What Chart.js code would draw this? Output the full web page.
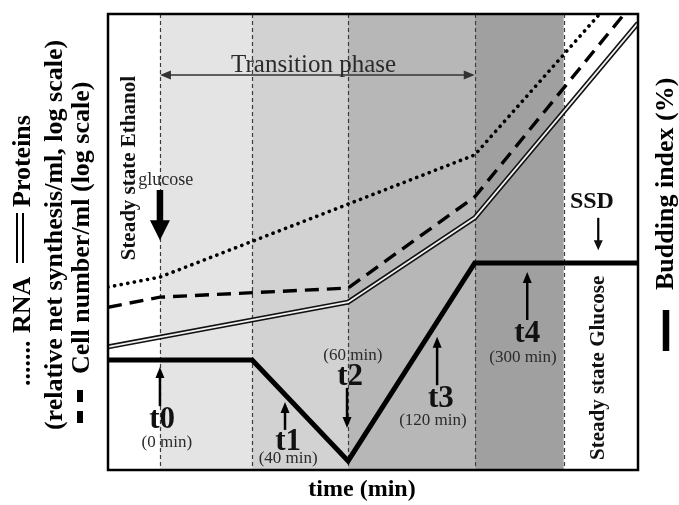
<!DOCTYPE html>
<html>
<head>
<meta charset="utf-8">
<script src="https://cdn.jsdelivr.net/npm/chart.js@4.4.1/dist/chart.umd.min.js"></script>
<style>
  html, body { margin: 0; padding: 0; background: #fff; }
</style>
</head>
<body>
<canvas id="myChart" width="679" height="505"></canvas>
<script>
// schematic time axis (0..100 across the plot), phase boundaries
const phaseEdges = [0, 9.8, 27.2, 45.3, 69.2, 86.0, 100];
const phaseShades = ['#ffffff', '#e4e4e4', '#d2d2d2', '#b7b7b7', '#a0a0a0', '#ffffff'];

// budding index (%), schematic
const buddingX = [0, 27.2, 45.3, 69.2, 100];
const buddingY = [24.1, 24.1, 2.0, 45.4, 45.4];

// proteins, cell number, RNA (log scale, schematic)
const proteinX = [0, 45.3, 69.2, 100];
const proteinY = [27.0, 36.8, 55.3, 98.0];
const cellX = [0, 9.8, 45.3, 69.2, 100];
const cellY = [35.7, 37.9, 39.9, 59.9, 103.7];
const rnaX = [0, 9.8, 45.3, 69.2, 100];
const rnaY = [40.1, 42.3, 58.3, 69.1, 109.5];

// sampling points
const tNames = ['t0', 't1', 't2', 't3', 't4'];
const tTimes = ['(0 min)', '(40 min)', '(60 min)', '(120 min)', '(300 min)'];

const pts = (xs, ys) => xs.map((x, i) => ({ x: x, y: ys[i] }));

const SERIF = '"Liberation Serif", "Times New Roman", serif';

// where the t-markers sit (data units)
const tPlace = [
    { ax: 9.8, tail: 14.0, tip: 22.6, nx: 10.2, ny: 9.2, sx: 11.1, sy: 5.0 },
    { ax: 33.4, tail: 8.8, tip: 14.9, nx: 34.0, ny: 4.4, sx: 34.0, sy: 1.6 },
    { ax: 45.1, tail: 18.0, tip: 9.2, nx: 45.7, ny: 18.6, sx: 46.2, sy: 24.1 },
    { ax: 62.1, tail: 18.6, tip: 29.2, nx: 62.8, ny: 13.8, sx: 61.3, sy: 9.9 },
    { ax: 79.1, tail: 32.9, tip: 43.4, nx: 79.1, ny: 28.1, sx: 78.3, sy: 23.7 },
];

function arrowV(ctx, x, yTail, yTip, lw, head, half) {
    const dir = Math.sign(yTip - yTail);
    ctx.lineWidth = lw;
    ctx.beginPath();
    ctx.moveTo(x, yTail);
    ctx.lineTo(x, yTip - dir * head * 0.7);
    ctx.stroke();
    ctx.beginPath();
    ctx.moveTo(x, yTip);
    ctx.lineTo(x - half, yTip - dir * head);
    ctx.lineTo(x + half, yTip - dir * head);
    ctx.closePath();
    ctx.fill();
}

function arrowH(ctx, xTail, xTip, y, head, half) {
    const dir = Math.sign(xTip - xTail);
    ctx.beginPath();
    ctx.moveTo(xTip, y);
    ctx.lineTo(xTip - dir * head, y - half);
    ctx.lineTo(xTip - dir * head, y + half);
    ctx.closePath();
    ctx.fill();
}

function text(ctx, s, x, y, font, color, align) {
    ctx.font = font;
    ctx.fillStyle = color;
    ctx.textAlign = align || 'center';
    ctx.textBaseline = 'alphabetic';
    ctx.fillText(s, x, y);
}

function vtext(ctx, s, x, y, font, color, align) {
    ctx.save();
    ctx.translate(x, y);
    ctx.rotate(-Math.PI / 2);
    text(ctx, s, 0, 0, font, color, align);
    ctx.restore();
}

const schemePlugin = {
    id: 'scheme',
    beforeDatasetsDraw(chart) {
        const { ctx, chartArea: a, scales: { x } } = chart;
        ctx.save();
        for (let i = 0; i < phaseShades.length; i++) {
            const x0 = x.getPixelForValue(phaseEdges[i]);
            const x1 = x.getPixelForValue(phaseEdges[i + 1]);
            ctx.fillStyle = phaseShades[i];
            ctx.fillRect(x0, a.top, x1 - x0, a.bottom - a.top);
        }
        ctx.strokeStyle = '#3c3c3c';
        ctx.lineWidth = 1.2;
        ctx.setLineDash([4, 3]);
        for (let i = 1; i < phaseEdges.length - 1; i++) {
            const px = Math.round(x.getPixelForValue(phaseEdges[i])) + 0.5;
            ctx.beginPath();
            ctx.moveTo(px, a.top);
            ctx.lineTo(px, a.bottom);
            ctx.stroke();
        }
        ctx.restore();
    },
    afterDatasetsDraw(chart) {
        const { ctx, chartArea: a, scales: { x, y } } = chart;
        const X = v => x.getPixelForValue(v);
        const Y = v => y.getPixelForValue(v);
        ctx.save();

        // transition phase
        ctx.strokeStyle = '#333';
        ctx.fillStyle = '#333';
        ctx.lineWidth = 1.5;
        ctx.beginPath();
        ctx.moveTo(X(9.8) + 6, Y(86.6));
        ctx.lineTo(X(69.2) - 6, Y(86.6));
        ctx.stroke();
        arrowH(ctx, X(30), X(9.8), Y(86.6), 11, 4.5);
        arrowH(ctx, X(30), X(69.2), Y(86.6), 11, 4.5);
        text(ctx, 'Transition phase', X(38.8), Y(87.3), '25px ' + SERIF, '#2a2a2a');

        // steady state labels
        vtext(ctx, 'Steady state Ethanol', X(5.1), Y(66.2), 'bold 21px ' + SERIF, '#111');
        vtext(ctx, 'Steady state Glucose', X(93.6), Y(22.4), 'bold 21px ' + SERIF, '#111');

        // glucose pulse
        text(ctx, 'glucose', X(10.9), Y(62.5), '18px ' + SERIF, '#2a2a2a');
        ctx.fillStyle = '#000';
        ctx.strokeStyle = '#000';
        arrowV(ctx, X(9.8), Y(61.4), Y(50.4), 6.5, 20, 10);

        // SSD
        text(ctx, 'SSD', X(91.3), Y(57.5), 'bold 24px ' + SERIF, '#111');
        arrowV(ctx, X(92.5), Y(55.3), Y(48.2), 2.2, 10, 4.5);

        // sampling points
        tPlace.forEach((p, i) => {
            ctx.fillStyle = '#000';
            ctx.strokeStyle = '#000';
            arrowV(ctx, X(p.ax), Y(p.tail), Y(p.tip), 2.5, 11, 4.5);
            text(ctx, tNames[i], X(p.nx), Y(p.ny), 'bold 31px ' + SERIF, '#111');
            text(ctx, tTimes[i], X(p.sx), Y(p.sy), '17px ' + SERIF, '#2a2a2a');
        });

        // frame
        ctx.strokeStyle = '#000';
        ctx.lineWidth = 2.5;
        ctx.strokeRect(a.left, a.top, a.right - a.left, a.bottom - a.top);
        ctx.restore();
    },
    afterDraw(chart) {
        const { ctx } = chart;
        const f = 'bold 26px ' + SERIF;
        ctx.save();
        // x title
        text(ctx, 'time (min)', 362, 496, 'bold 24px ' + SERIF, '#000');

        // left titles
        vtext(ctx, '.......', 30, 386, f, '#000', 'left');
        vtext(ctx, 'RNA', 30, 333, f, '#000', 'left');
        ctx.strokeStyle = '#000';
        ctx.lineWidth = 2;
        [17, 23].forEach(px => {
            ctx.beginPath();
            ctx.moveTo(px, 263);
            ctx.lineTo(px, 213);
            ctx.stroke();
        });
        vtext(ctx, 'Proteins', 30, 207, f, '#000', 'left');
        vtext(ctx, '(relative net synthesis/ml, log scale)', 62, 235, f, '#000');
        ctx.lineWidth = 6;
        ctx.beginPath();
        ctx.moveTo(80, 423); ctx.lineTo(80, 411);
        ctx.moveTo(80, 402); ctx.lineTo(80, 390);
        ctx.stroke();
        vtext(ctx, 'Cell number/ml (log scale)', 89, 374, f, '#000', 'left');

        // right title
        ctx.lineWidth = 6.5;
        ctx.beginPath();
        ctx.moveTo(666, 351); ctx.lineTo(666, 310);
        ctx.stroke();
        vtext(ctx, 'Budding index (%)', 673, 290, f, '#000', 'left');
        ctx.restore();
    }
};

const config = {
    type: 'line',
    data: {
        datasets: [
            {
                label: 'Budding index',
                data: pts(buddingX, buddingY),
                borderColor: '#000',
                borderWidth: 5,
                order: 1,
            },
            {
                label: 'RNA',
                data: pts(rnaX, rnaY),
                borderColor: '#000',
                borderWidth: 3.6,
                borderDash: [0.1, 6.6],
                borderCapStyle: 'round',
                order: 2,
            },
            {
                label: 'Cell number',
                data: pts(cellX, cellY),
                borderColor: '#000',
                borderWidth: 3.4,
                borderDash: [14, 8],
                order: 3,
            },
            {
                label: 'Proteins (inner)',
                data: pts(proteinX, proteinY),
                borderColor: '#f2f2f2',
                borderWidth: 1.8,
                order: 4,
            },
            {
                label: 'Proteins',
                data: pts(proteinX, proteinY),
                borderColor: '#111',
                borderWidth: 5,
                order: 5,
            },
        ]
    },
    options: {
        responsive: false,
        devicePixelRatio: 1,
        animation: false,
        clip: 0,
        layout: {
            padding: { left: 108, right: 41, top: 14, bottom: 35 }
        },
        elements: {
            point: { radius: 0 },
            line: { tension: 0, fill: false }
        },
        plugins: {
            legend: { display: false },
            tooltip: { enabled: false }
        },
        scales: {
            x: { type: 'linear', min: 0, max: 100, display: false },
            y: { type: 'linear', min: 0, max: 100, display: false }
        }
    },
    plugins: [schemePlugin]
};

const myChart = new Chart(
    document.getElementById('myChart'),
    config
);
</script>
</body>
</html>
